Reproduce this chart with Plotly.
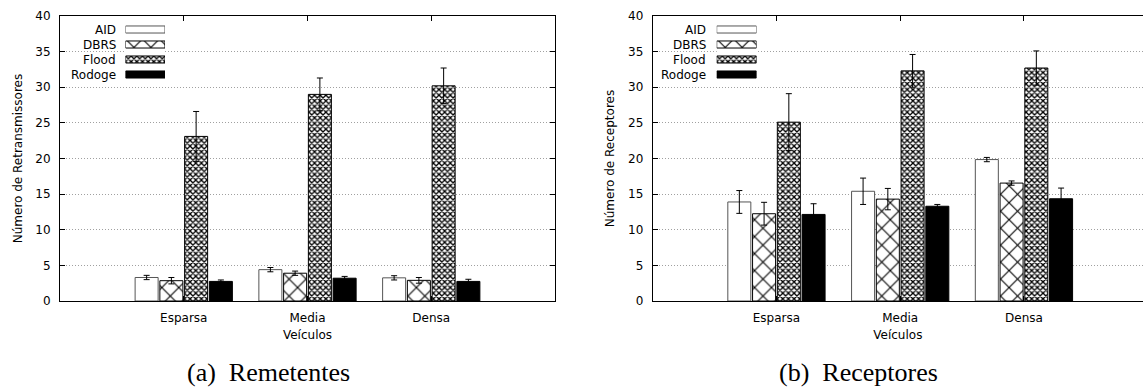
import plotly.graph_objects as go

# ---------------- data ----------------
categories = ["Esparsa", "Media", "Densa"]
series = ["AID", "DBRS", "Flood", "Rodoge"]
y_ticks = [0, 5, 10, 15, 20, 25, 30, 35, 40]

# (a) Remetentes
rem_aid = [3.3, 4.4, 3.25]
rem_aid_err = [0.3, 0.3, 0.3]
rem_dbrs = [2.85, 3.9, 2.9]
rem_dbrs_err = [0.45, 0.3, 0.4]
rem_flood = [23.1, 29.0, 30.2]
rem_flood_err = [3.5, 2.3, 2.5]
rem_rodoge = [2.75, 3.2, 2.75]
rem_rodoge_err = [0.2, 0.25, 0.3]

# (b) Receptores
rec_aid = [13.9, 15.4, 19.85]
rec_aid_err = [1.6, 1.85, 0.3]
rec_dbrs = [12.25, 14.3, 16.55]
rec_dbrs_err = [1.6, 1.5, 0.3]
rec_flood = [25.1, 32.3, 32.7]
rec_flood_err = [4.0, 2.3, 2.4]
rec_rodoge = [12.15, 13.3, 14.35]
rec_rodoge_err = [1.5, 0.25, 1.5]

# ---------------- styles ----------------
W, H = 1143, 390
FONT = "DejaVu Sans"
styles = {
    "AID": dict(color="white", shape="", size=8, solidity=0.2, line="#555555"),
    "DBRS": dict(color="white", shape="x", size=12, solidity=0.17, line="black"),
    "Flood": dict(color="white", shape="x", size=4, solidity=0.55, line="black"),
    "Rodoge": dict(color="black", shape="", size=8, solidity=0.2, line="black"),
}


def px_x(p):
    return p / W


def px_y(p):
    return 1 - p / H


def marker_for(name):
    s = styles[name]
    m = dict(color=s["color"], line=dict(color=s["line"], width=1))
    if s["shape"]:
        m["pattern"] = dict(shape=s["shape"], size=s["size"], solidity=s["solidity"],
                            fgcolor="black", bgcolor="white", fillmode="replace")
    return m


fig = go.Figure()

panels = [
    ("x", "y", [rem_aid, rem_dbrs, rem_flood, rem_rodoge],
     [rem_aid_err, rem_dbrs_err, rem_flood_err, rem_rodoge_err]),
    ("x2", "y2", [rec_aid, rec_dbrs, rec_flood, rec_rodoge],
     [rec_aid_err, rec_dbrs_err, rec_flood_err, rec_rodoge_err]),
]
for xa, ya, vals, errs in panels:
    for name, v, e in zip(series, vals, errs):
        fig.add_trace(go.Bar(
            x=categories, y=v, name=name, xaxis=xa, yaxis=ya,
            marker=marker_for(name),
            error_y=dict(type="data", array=e, color="black", thickness=1, width=3),
            showlegend=False, hoverinfo="skip",
        ))

# ---------- hand-made legends (text left, swatch right) ----------
for xa, ya, grp in [("x3", "y3", "legA"), ("x4", "y4", "legB")]:
    for i, name in enumerate(series):
        fig.add_trace(go.Bar(
            x=[1], y=[i], orientation="h", width=0.47, offsetgroup=grp,
            xaxis=xa, yaxis=ya, showlegend=False, hoverinfo="skip",
            marker=marker_for(name),
        ))

axis_common = dict(
    showline=True, linecolor="black", linewidth=1, ticks="inside", ticklen=5,
    tickcolor="black", tickwidth=1, tickfont=dict(family=FONT, size=12, color="black"),
    zeroline=False, automargin=False,
)
yaxis_common = dict(axis_common, range=[0, 40], tickvals=y_ticks, showgrid=True,
                    gridcolor="#a0a0a0", griddash="1px,2px", gridwidth=1,
                    domain=[px_y(301), px_y(16)], ticklabelstandoff=6)

left_dom = [px_x(60), px_x(555)]
right_dom = [px_x(652.7), 1.0]
unit = (555 - 60) / 4.0

fig.update_layout(
    width=W, height=H, margin=dict(l=0, r=0, t=0, b=0),
    paper_bgcolor="white", plot_bgcolor="white",
    barmode="group", bargap=0.2, bargroupgap=0.07,
    font=dict(family=FONT, size=12, color="black"),
    xaxis=dict(axis_common, domain=left_dom, range=[-1, 3], mirror="allticks",
               showgrid=False, ticklabelstandoff=6,
               title=dict(text="Veículos", standoff=6, font=dict(family=FONT, size=12))),
    yaxis=dict(yaxis_common, mirror="allticks",
               title=dict(text="Número de Retransmissores", standoff=10,
                          font=dict(family=FONT, size=12))),
    xaxis2=dict(axis_common, domain=right_dom, anchor="y2",
                range=[-1, -1 + (W - 652.7) / unit], mirror="allticks",
                showgrid=False, ticklabelstandoff=6,
                title=dict(text="Veículos", standoff=6, font=dict(family=FONT, size=12))),
    yaxis2=dict(yaxis_common, anchor="x2", mirror=False,
                title=dict(text="Número de Receptores", standoff=10,
                           font=dict(family=FONT, size=12))),
    xaxis3=dict(domain=[px_x(125.5), px_x(165)], range=[0, 1], visible=False,
                anchor="y3", fixedrange=True),
    yaxis3=dict(domain=[px_y(82), px_y(22)], range=[3.5, -0.5], visible=False,
                anchor="x3", fixedrange=True),
    xaxis4=dict(domain=[px_x(716.7), px_x(756.5)], range=[0, 1], visible=False,
                anchor="y4", fixedrange=True),
    yaxis4=dict(domain=[px_y(82), px_y(22)], range=[3.5, -0.5], visible=False,
                anchor="x4", fixedrange=True),
)

annotations = []
for i, name in enumerate(series):
    annotations.append(dict(text=name, xref="paper", x=px_x(118), yref="y3", y=i,
                            xanchor="right", yanchor="middle", showarrow=False,
                            font=dict(family=FONT, size=12, color="black")))
    annotations.append(dict(text=name, xref="paper", x=px_x(708.5), yref="y4", y=i,
                            xanchor="right", yanchor="middle", showarrow=False,
                            font=dict(family=FONT, size=12, color="black")))
captions = [("(a)\u00a0\u00a0Remetentes", 268), ("(b)\u00a0\u00a0Receptores", 858)]
for txt, cx in captions:
    annotations.append(dict(text=txt, xref="paper", x=px_x(cx), yref="paper", y=px_y(372),
                            xanchor="center", yanchor="middle", showarrow=False,
                            font=dict(family="Liberation Serif", size=26, color="black")))
fig.update_layout(annotations=annotations)

fig.write_html("out.html", config={"displayModeBar": False},
               post_script="document.body.style.margin='0';document.body.style.overflow='hidden';")
